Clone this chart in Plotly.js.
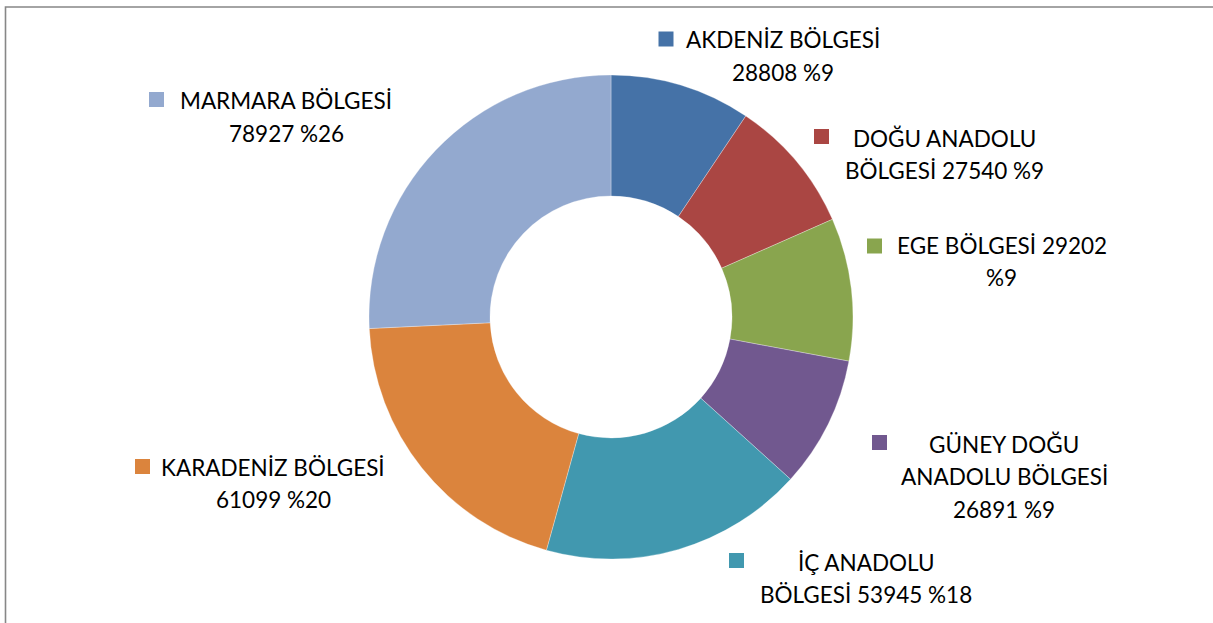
<!DOCTYPE html>
<html>
<head>
<meta charset="utf-8">
<script src="https://cdn.plot.ly/plotly-3.0.1.min.js"></script>
<style>html,body{margin:0;padding:0;background:#fff;}#chart{width:1213px;height:623px;}</style>
</head>
<body>
<div id="chart"></div>
<script>
// ---- data ----
const regions = ["AKDENİZ BÖLGESİ", "DOĞU ANADOLU BÖLGESİ", "EGE BÖLGESİ", "GÜNEY DOĞU ANADOLU BÖLGESİ", "İÇ ANADOLU BÖLGESİ", "KARADENİZ BÖLGESİ", "MARMARA BÖLGESİ"];
const values = [28808, 27540, 29202, 26891, 53945, 61099, 78927];
const percentLabels = ["%9", "%9", "%9", "%9", "%18", "%20", "%26"];
// word counts per label line (how the label text wraps)
const lineWords = [[2, 2], [2, 3], [3, 1], [2, 2, 2], [2, 3], [2, 2], [2, 2]];

// ---- styles / layout ----
const colors = ["#4572A7", "#AA4643", "#89A54E", "#71588F", "#4198AF", "#DB843D", "#93A9CF"];
const W = 1213, H = 623;
// label block positions in pixels: [center x, first-line center y]
const labelPos = [[783, 39.5], [944, 138], [1001.5, 245], [1004, 444], [866, 562], [273, 467], [286, 100.5]];
// legend-key square centers in pixels
const keyPos = [[666, 39], [821.5, 136.5], [874.5, 246], [879.5, 442.5], [736.5, 560.5], [142.5, 466.5], [156.5, 99.5]];
const lineGap = 32.8, keySize = 15;
const fontFam = "Lato, 'Open Sans', sans-serif", fontSize = 22.5;

const px = x => x / W, py = y => 1 - y / H;

const annotations = [], shapes = [];
regions.forEach((name, i) => {
  const words = (name + " " + values[i] + " " + percentLabels[i]).split(" ");
  let k = 0;
  lineWords[i].forEach((n, j) => {
    const line = words.slice(k, k + n).join(" ");
    k += n;
    annotations.push({
      xref: "paper", yref: "paper",
      x: px(labelPos[i][0]), y: py(labelPos[i][1] + j * lineGap),
      xanchor: "center", yanchor: "middle",
      text: line, showarrow: false,
      font: {family: fontFam, size: fontSize, color: "#000000"}
    });
  });
  const [cx, cy] = keyPos[i];
  shapes.push({
    type: "rect", xref: "paper", yref: "paper",
    x0: px(cx - keySize / 2), x1: px(cx + keySize / 2),
    y0: py(cy + keySize / 2), y1: py(cy - keySize / 2),
    fillcolor: colors[i], line: {width: 0}
  });
});
// chart-area border (left and top visible)
shapes.push({
  type: "rect", xref: "paper", yref: "paper",
  x0: px(5.5), x1: px(1220), y0: py(640), y1: py(7),
  fillcolor: "rgba(0,0,0,0)", line: {color: "#878787", width: 1.6}
});

const trace = {
  type: "pie",
  labels: regions,
  values: values,
  hole: 0.5,
  sort: false,
  direction: "clockwise",
  rotation: 0,
  marker: {colors: colors, line: {color: "#ffffff", width: 0.3}},
  textinfo: "none",
  hoverinfo: "label+value+percent",
  domain: {x: [px(369), px(853)], y: [py(559), py(75)]}
};

const layout = {
  width: W, height: H,
  margin: {l: 0, r: 0, t: 0, b: 0},
  paper_bgcolor: "#ffffff",
  showlegend: false,
  annotations: annotations,
  shapes: shapes
};

Plotly.newPlot("chart", [trace], layout, {displayModeBar: false, staticPlot: true});
</script>
</body>
</html>
